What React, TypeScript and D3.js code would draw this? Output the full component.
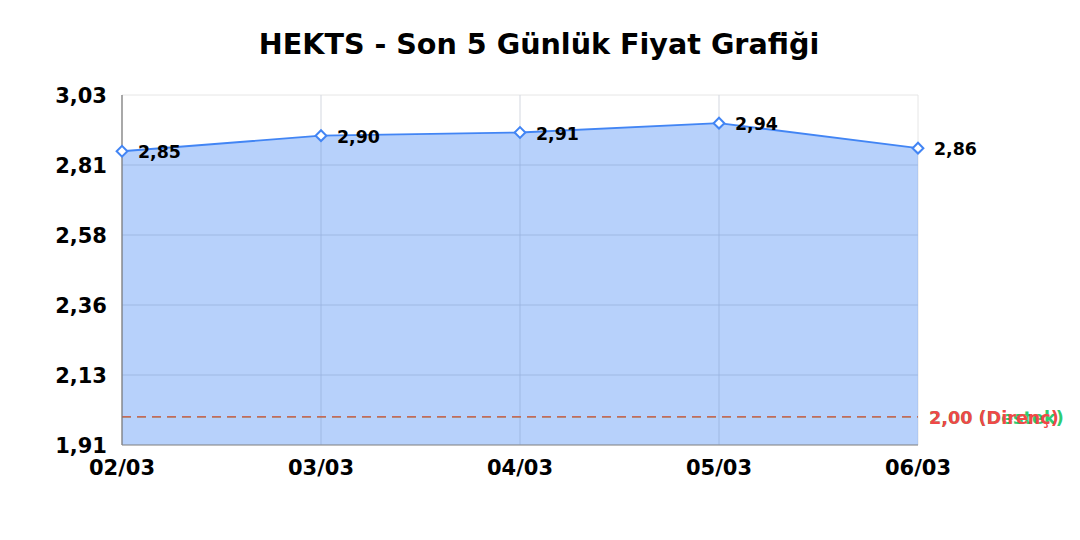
import React, { useEffect, useRef } from "react";
import * as d3 from "d3";

const dates = ["02/03", "03/03", "04/03", "05/03", "06/03"];
const prices = [2.85, 2.9, 2.91, 2.94, 2.86];
const yTicks = [1.91, 2.134, 2.358, 2.582, 2.806, 3.03];
const supportLevel = 2.0;
const resistanceLevel = 2.0;

const App: React.FC = () => {
  const svgRef = useRef<SVGSVGElement | null>(null);

  useEffect(() => {
    const width = 1080;
    const height = 540;
    const marginTop = 95;
    const marginRight = 162;
    const marginBottom = 95;
    const marginLeft = 122;
    const font = "DejaVu Sans, sans-serif";
    const fmt = (v: number) => v.toFixed(2).replace(".", ",");

    const svg = d3
      .select(svgRef.current)
      .attr("width", width)
      .attr("height", height)
      .attr("viewBox", [0, 0, width, height])
      .style("font-family", font);
    svg.selectAll("*").remove();

    const x = d3
      .scalePoint<string>()
      .domain(dates)
      .range([marginLeft, width - marginRight]);

    const y = d3
      .scaleLinear()
      .domain([1.91, 3.03])
      .range([height - marginBottom, marginTop]);

    // title
    svg
      .append("text")
      .attr("x", 539)
      .attr("y", 54)
      .attr("text-anchor", "middle")
      .attr("font-size", 28.6)
      .attr("font-weight", "bold")
      .attr("fill", "#000")
      .text("HEKTS - Son 5 Günlük Fiyat Grafiği");

    // grid
    svg
      .append("g")
      .selectAll("line")
      .data(yTicks)
      .join("line")
      .attr("x1", marginLeft)
      .attr("x2", width - marginRight)
      .attr("y1", (d) => y(d))
      .attr("y2", (d) => y(d))
      .attr("stroke", "#e6e6e6");
    svg
      .append("g")
      .selectAll("line")
      .data(dates)
      .join("line")
      .attr("x1", (d) => x(d) as number)
      .attr("x2", (d) => x(d) as number)
      .attr("y1", marginTop)
      .attr("y2", height - marginBottom)
      .attr("stroke", "#e6e6e6");

    // area + line
    const area = d3
      .area<number>()
      .x((_, i) => x(dates[i]) as number)
      .y0(y(1.91))
      .y1((d) => y(d));
    svg
      .append("path")
      .datum(prices)
      .attr("d", area)
      .attr("fill", "rgba(66,133,244,0.38)");

    // grid over the fill (faint)
    svg
      .append("g")
      .selectAll("line")
      .data(yTicks.slice(1, -1))
      .join("line")
      .attr("x1", marginLeft)
      .attr("x2", width - marginRight)
      .attr("y1", (d) => y(d))
      .attr("y2", (d) => y(d))
      .attr("stroke", "rgba(120,150,210,0.15)");
    svg
      .append("g")
      .selectAll("line")
      .data(dates.slice(1, -1))
      .join("line")
      .attr("x1", (d) => x(d) as number)
      .attr("x2", (d) => x(d) as number)
      .attr("y1", marginTop)
      .attr("y2", height - marginBottom)
      .attr("stroke", "rgba(120,150,210,0.15)");

    const line = d3
      .line<number>()
      .x((_, i) => x(dates[i]) as number)
      .y((d) => y(d));
    svg
      .append("path")
      .datum(prices)
      .attr("d", line)
      .attr("fill", "none")
      .attr("stroke", "#4285f4")
      .attr("stroke-width", 1.8);

    // support / resistance lines
    const levels = [
      { v: supportLevel, label: "Destek", color: "#2ecc71" },
      { v: resistanceLevel, label: "Direnç", color: "#f04848" },
    ];
    levels.forEach((lv) => {
      svg
        .append("line")
        .attr("x1", marginLeft)
        .attr("x2", width - marginRight)
        .attr("y1", y(lv.v))
        .attr("y2", y(lv.v))
        .attr("stroke", lv.color)
        .attr("stroke-width", 1.3)
        .attr("stroke-dasharray", "9,6");
      svg
        .append("text")
        .attr("x", width - marginRight + 11)
        .attr("y", y(lv.v) + 7)
        .attr("font-size", 17.6)
        .attr("font-weight", "bold")
        .attr("fill", lv.color)
        .text(`${fmt(lv.v)} (${lv.label})`);
    });

    // axes lines
    svg
      .append("line")
      .attr("x1", marginLeft)
      .attr("x2", marginLeft)
      .attr("y1", marginTop)
      .attr("y2", height - marginBottom)
      .attr("stroke", "#777")
      .attr("stroke-width", 1.2);
    svg
      .append("line")
      .attr("x1", marginLeft)
      .attr("x2", width - marginRight)
      .attr("y1", height - marginBottom)
      .attr("y2", height - marginBottom)
      .attr("stroke", "#888")
      .attr("stroke-width", 1.2);

    // y labels
    svg
      .append("g")
      .selectAll("text")
      .data(yTicks)
      .join("text")
      .attr("x", marginLeft - 15)
      .attr("y", (d) => y(d) + 8)
      .attr("text-anchor", "end")
      .attr("font-size", 21)
      .attr("font-weight", "bold")
      .attr("fill", "#000")
      .text((d) => fmt(d));

    // x labels
    svg
      .append("g")
      .selectAll("text")
      .data(dates)
      .join("text")
      .attr("x", (d) => x(d) as number)
      .attr("y", height - marginBottom + 30)
      .attr("text-anchor", "middle")
      .attr("font-size", 21)
      .attr("font-weight", "bold")
      .attr("fill", "#000")
      .text((d) => d);

    // markers
    svg
      .append("g")
      .selectAll("rect")
      .data(prices)
      .join("rect")
      .attr("x", -3.8)
      .attr("y", -3.8)
      .attr("width", 7.6)
      .attr("height", 7.6)
      .attr(
        "transform",
        (d, i) => `translate(${x(dates[i])},${y(d)}) rotate(45)`,
      )
      .attr("fill", "#fff")
      .attr("stroke", "#4285f4")
      .attr("stroke-width", 2);

    // value labels
    svg
      .append("g")
      .selectAll("text")
      .data(prices)
      .join("text")
      .attr("x", (_, i) => (x(dates[i]) as number) + 16)
      .attr("y", (d) => y(d) + 7)
      .attr("font-size", 17.4)
      .attr("font-weight", "bold")
      .attr("fill", "#000")
      .text((d) => fmt(d));
  }, []);

  return (
    <div style={{ position: "absolute", left: 0, top: 0, background: "#fff" }}>
      <svg ref={svgRef}></svg>
    </div>
  );
};

export default App;
